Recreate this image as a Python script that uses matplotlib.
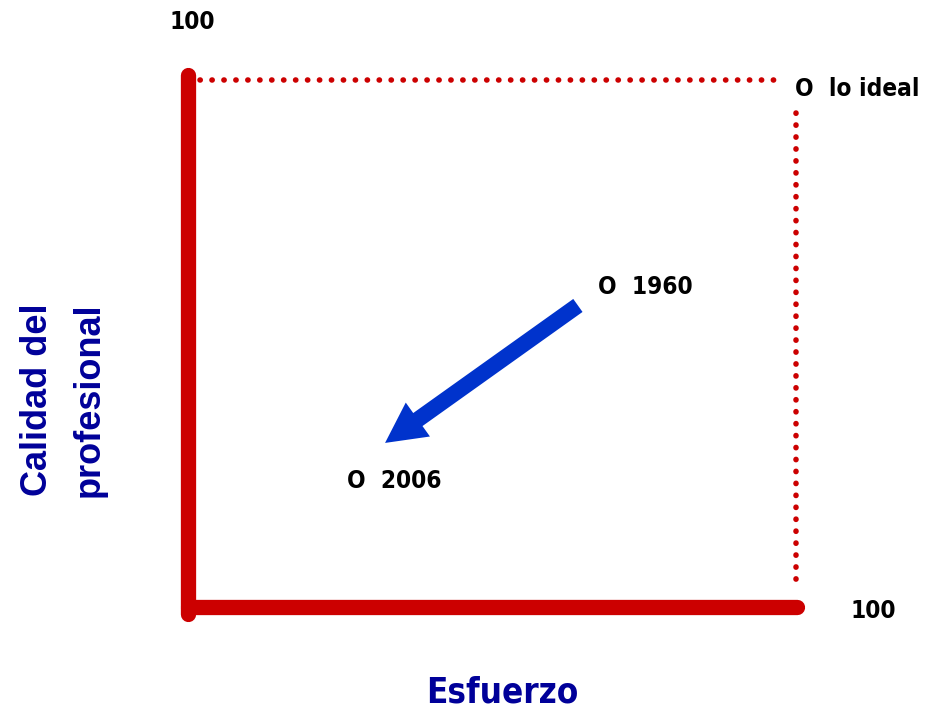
import matplotlib
matplotlib.use('Agg')
from matplotlib import pyplot as plt

# puntos del diagrama (Esfuerzo, Calidad)
etiquetas = ['O  lo ideal', 'O  1960', 'O  2006']
esfuerzo = [99.2, 67.0, 26.0]
calidad = [96.8, 59.8, 23.6]

# flecha 1960 -> 2006
flecha_inicio = (63.7, 56.4)
flecha_fin = (32.2, 30.7)

maximo = 100
rojo = '#cc0000'
azul_texto = '#000099'
azul_flecha = '#0033cc'
narrow = ['Liberation Sans Narrow', 'DejaVu Sans']

fig = plt.figure(figsize=(9.25, 7.12), dpi=100)
ax = fig.add_axes([0, 0, 1, 1])
ax.set_xlim(-30.7, 120.4)
ax.set_ylim(-19.6, 113.5)
ax.axis('off')

# ejes gruesos
ax.plot([0, 0], [-1.2, maximo - 0.5], color=rojo, lw=11, solid_capstyle='round')
ax.plot([0, maximo - 0.5], [0, 0], color=rojo, lw=11, solid_capstyle='round')

# lineas punteadas hacia lo ideal
ax.plot([2, 97.5], [98.5, 98.5], color=rojo, lw=4.0,
        linestyle=(0, (0.05, 2.1)), dash_capstyle='round')
ax.plot([99.3, 99.3], [92.3, 4.5], color=rojo, lw=4.0,
        linestyle=(0, (0.05, 2.1)), dash_capstyle='round')

# textos de los puntos
for txt, x, y in zip(etiquetas, esfuerzo, calidad):
    ax.text(x, y, txt, fontsize=17.5, fontweight='bold', family=narrow,
            fontstretch='condensed', ha='left', va='center', color='black')

ax.text(0.65, 109.3, str(maximo), fontsize=17.5, fontweight='bold', family=narrow,
        fontstretch='condensed', ha='center', va='center')
ax.text(108.2, -0.7, str(maximo), fontsize=17.5, fontweight='bold', family=narrow,
        fontstretch='condensed', ha='left', va='center')

ax.annotate('', xy=flecha_fin, xytext=flecha_inicio,
            arrowprops=dict(arrowstyle='simple,head_length=2.9,head_width=3.0,tail_width=1.15',
                            mutation_scale=10, color=azul_flecha, lw=0,
                            shrinkA=0, shrinkB=0))

ax.text(51.3, -15.9, 'Esfuerzo', fontsize=25, fontweight='bold', family=narrow,
        fontstretch='condensed', ha='center', va='center', color=azul_texto)
ax.text(-20.4, 38.7, 'Calidad del\nprofesional', fontsize=26, fontweight='bold',
        family=['Liberation Sans', 'DejaVu Sans'], rotation=90,
        ha='center', va='center', color=azul_texto, linespacing=1.6)

fig.savefig('out.png', dpi=100)
